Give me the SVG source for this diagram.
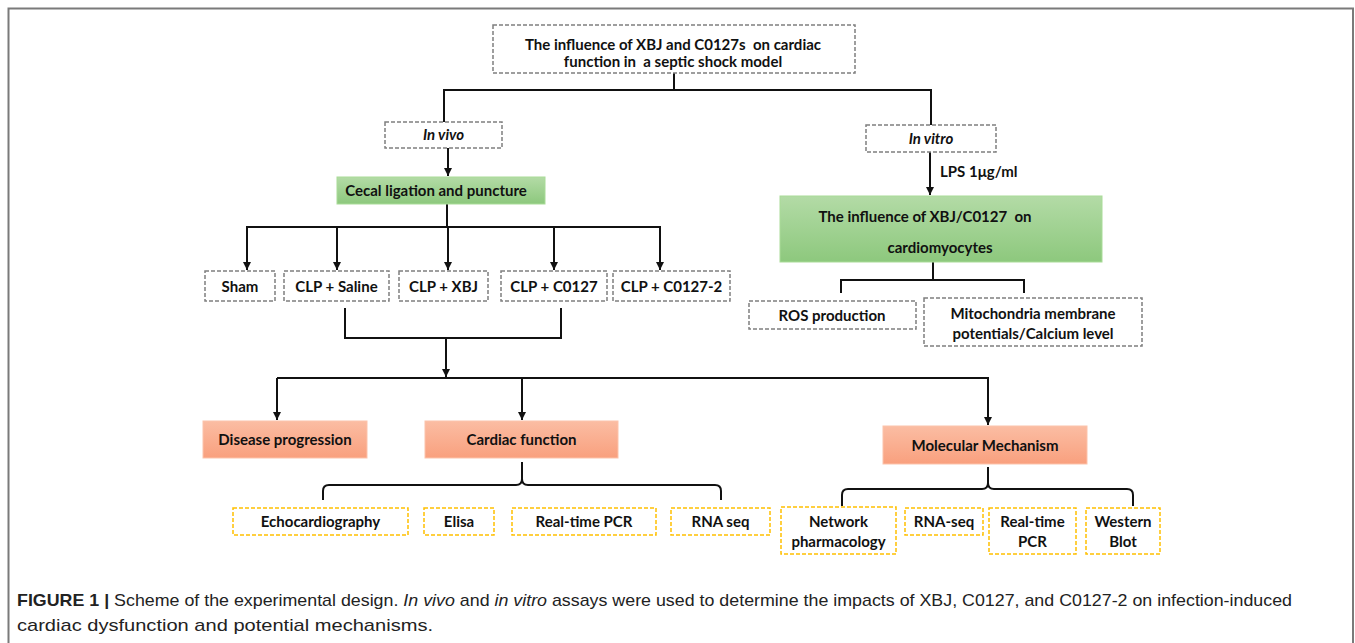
<svg xmlns="http://www.w3.org/2000/svg" width="1355" height="643" viewBox="0 0 1355 643">
<defs>
<linearGradient id="gGreen" x1="0" y1="0" x2="0" y2="1">
<stop offset="0" stop-color="#b3dba6"/>
<stop offset="1" stop-color="#8dc87d"/>
</linearGradient>
<linearGradient id="gSalmon" x1="0" y1="0" x2="0" y2="1">
<stop offset="0" stop-color="#fbbda3"/>
<stop offset="1" stop-color="#f9a07e"/>
</linearGradient>
<marker id="arr" viewBox="0 0 10 10" refX="10" refY="5" markerWidth="4" markerHeight="4" orient="auto">
<path d="M0,0 L10,5 L0,10 z" fill="#111"/>
</marker>
<style>
.gbox{fill:#fff;stroke:#7f7f7f;stroke-width:1.5;stroke-dasharray:4 2}
.ybox{fill:#fff;stroke:#ffc000;stroke-width:1.5;stroke-dasharray:4 2}
.green{fill:url(#gGreen);stroke:#a9dc98;stroke-width:1}
.salmon{fill:url(#gSalmon);stroke:#fcc3ab;stroke-width:1}
.t{font-family:Lato,"Liberation Sans",sans-serif;font-weight:700;font-size:15px;fill:#111;text-anchor:middle;white-space:pre}
.it{font-style:italic}
.c{fill:none;stroke:#111;stroke-width:2}
.a{marker-end:url(#arr)}
.cap{font-family:"Liberation Sans",Arial,sans-serif;font-size:17px;fill:#222}
</style>
</defs>
<rect width="1355" height="643" fill="#fff"/>
<path d="M8.5,643 V8.5 H1353 V643" fill="none" stroke="#7a7a7a" stroke-width="2"/>

<g id="connectors">
<path class="c" d="M674,73 V90 M444,90 H931 M444,89 V122 M931,89 V125"/>
<path class="c a" d="M448,148 V176"/>
<path class="c a" d="M930,152 V195"/>
<path class="c" d="M447,204 V227 M246,227 H661"/>
<path class="c a" d="M247,226 V270"/>
<path class="c a" d="M337,226 V270"/>
<path class="c a" d="M448,226 V270"/>
<path class="c a" d="M554,226 V270"/>
<path class="c a" d="M660,226 V270"/>
<path class="c" d="M345,308 V338 H561 V308"/>
<path class="c a" d="M446,338 V377"/>
<path class="c" d="M277,378 H989"/>
<path class="c a" d="M277,378 V420"/>
<path class="c a" d="M522,378 V420"/>
<path class="c a" d="M988,378 V425"/>
<path class="c" d="M933,262 V280 M841,280 H1024 M841,279 V293 M1024,279 V293"/>
<path class="c" d="M522,462 V479 Q522,485 528,485 H715 Q721,485 721,491 V500 M522,479 Q522,485 516,485 H329 Q323,485 323,491 V500"/>
<path class="c" d="M988,467 V483 Q988,489 994,489 H1127 Q1133,489 1133,495 V506 M988,483 Q988,489 982,489 H848 Q842,489 842,495 V506"/>
</g>

<g id="n-top">
<rect class="gbox" x="493" y="25" width="362" height="48"/>
<text class="t" x="673" y="50" xml:space="preserve">The influence of XBJ and C0127s  on cardiac</text>
<text class="t" x="673" y="67" xml:space="preserve">function in  a septic shock model</text>
</g>
<g id="n-invivo">
<rect class="gbox" x="385" y="122" width="117" height="26"/>
<text class="t it" x="443.5" y="140">In vivo</text>
</g>
<g id="n-invitro">
<rect class="gbox" x="866" y="125" width="130" height="27"/>
<text class="t it" x="931" y="143.5">In vitro</text>
</g>
<g id="lps-label">
<text class="t" x="940" y="177" style="text-anchor:start">LPS 1μg/ml</text>
</g>
<g id="n-cecal">
<rect class="green" x="337" y="177" width="208" height="27"/>
<text class="t" x="436" y="195.5">Cecal ligation and puncture</text>
</g>
<g id="n-sham">
<rect class="gbox" x="205" y="271" width="70" height="30"/>
<text class="t" x="240" y="291.5">Sham</text>
</g>
<g id="n-saline">
<rect class="gbox" x="284" y="271" width="105" height="30"/>
<text class="t" x="336.5" y="291.5">CLP + Saline</text>
</g>
<g id="n-xbj">
<rect class="gbox" x="399" y="271" width="89" height="30"/>
<text class="t" x="443.5" y="291.5">CLP + XBJ</text>
</g>
<g id="n-c0127">
<rect class="gbox" x="501" y="271" width="106" height="30"/>
<text class="t" x="554" y="291.5">CLP + C0127</text>
</g>
<g id="n-c0127-2">
<rect class="gbox" x="613" y="271" width="117" height="30"/>
<text class="t" x="671.5" y="291.5">CLP + C0127-2</text>
</g>
<g id="n-cardiomyocytes">
<rect class="green" x="780" y="196" width="322" height="66"/>
<text class="t" x="925" y="221.5" xml:space="preserve">The influence of XBJ/C0127  on</text>
<text class="t" x="940" y="252.5">cardiomyocytes</text>
</g>
<g id="n-ros">
<rect class="gbox" x="749" y="301" width="167" height="28"/>
<text class="t" x="832" y="320.5">ROS production</text>
</g>
<g id="n-mito">
<rect class="gbox" x="924" y="298" width="218" height="48"/>
<text class="t" x="1033" y="319">Mitochondria membrane</text>
<text class="t" x="1033" y="338.5">potentials/Calcium level</text>
</g>
<g id="n-disease">
<rect class="salmon" x="203" y="421" width="164" height="37"/>
<text class="t" x="285" y="444.5">Disease progression</text>
</g>
<g id="n-cardiac">
<rect class="salmon" x="425" y="421" width="193" height="37"/>
<text class="t" x="521.5" y="444.5">Cardiac function</text>
</g>
<g id="n-molecular">
<rect class="salmon" x="883" y="426" width="204" height="38"/>
<text class="t" x="985" y="450.5">Molecular Mechanism</text>
</g>
<g id="n-echo">
<rect class="ybox" x="233" y="508" width="175" height="27"/>
<text class="t" x="320.5" y="526.5">Echocardiography</text>
</g>
<g id="n-elisa">
<rect class="ybox" x="424" y="508" width="70" height="27"/>
<text class="t" x="459" y="526.5">Elisa</text>
</g>
<g id="n-pcr1">
<rect class="ybox" x="512" y="508" width="144" height="27"/>
<text class="t" x="584" y="526.5">Real-time PCR</text>
</g>
<g id="n-rnaseq1">
<rect class="ybox" x="671" y="508" width="99" height="27"/>
<text class="t" x="720.5" y="526.5">RNA seq</text>
</g>
<g id="n-network">
<rect class="ybox" x="781" y="507" width="115" height="47"/>
<text class="t" x="838.5" y="527">Network</text>
<text class="t" x="838.5" y="547">pharmacology</text>
</g>
<g id="n-rnaseq2">
<rect class="ybox" x="905" y="508" width="78" height="27"/>
<text class="t" x="944" y="526.5">RNA-seq</text>
</g>
<g id="n-pcr2">
<rect class="ybox" x="989" y="508" width="87" height="46"/>
<text class="t" x="1032.5" y="527">Real-time</text>
<text class="t" x="1032.5" y="547">PCR</text>
</g>
<g id="n-western">
<rect class="ybox" x="1086" y="508" width="74" height="46"/>
<text class="t" x="1123" y="527">Western</text>
<text class="t" x="1123" y="547">Blot</text>
</g>

<g id="caption">
<text class="cap" x="17" y="606" textLength="1275" lengthAdjust="spacingAndGlyphs"><tspan font-weight="700">FIGURE 1 | </tspan>Scheme of the experimental design. <tspan font-style="italic">In vivo</tspan> and <tspan font-style="italic">in vitro</tspan> assays were used to determine the impacts of XBJ, C0127, and C0127-2 on infection-induced</text>
<text class="cap" x="17" y="631" textLength="416" lengthAdjust="spacingAndGlyphs">cardiac dysfunction and potential mechanisms.</text>
</g>
</svg>
